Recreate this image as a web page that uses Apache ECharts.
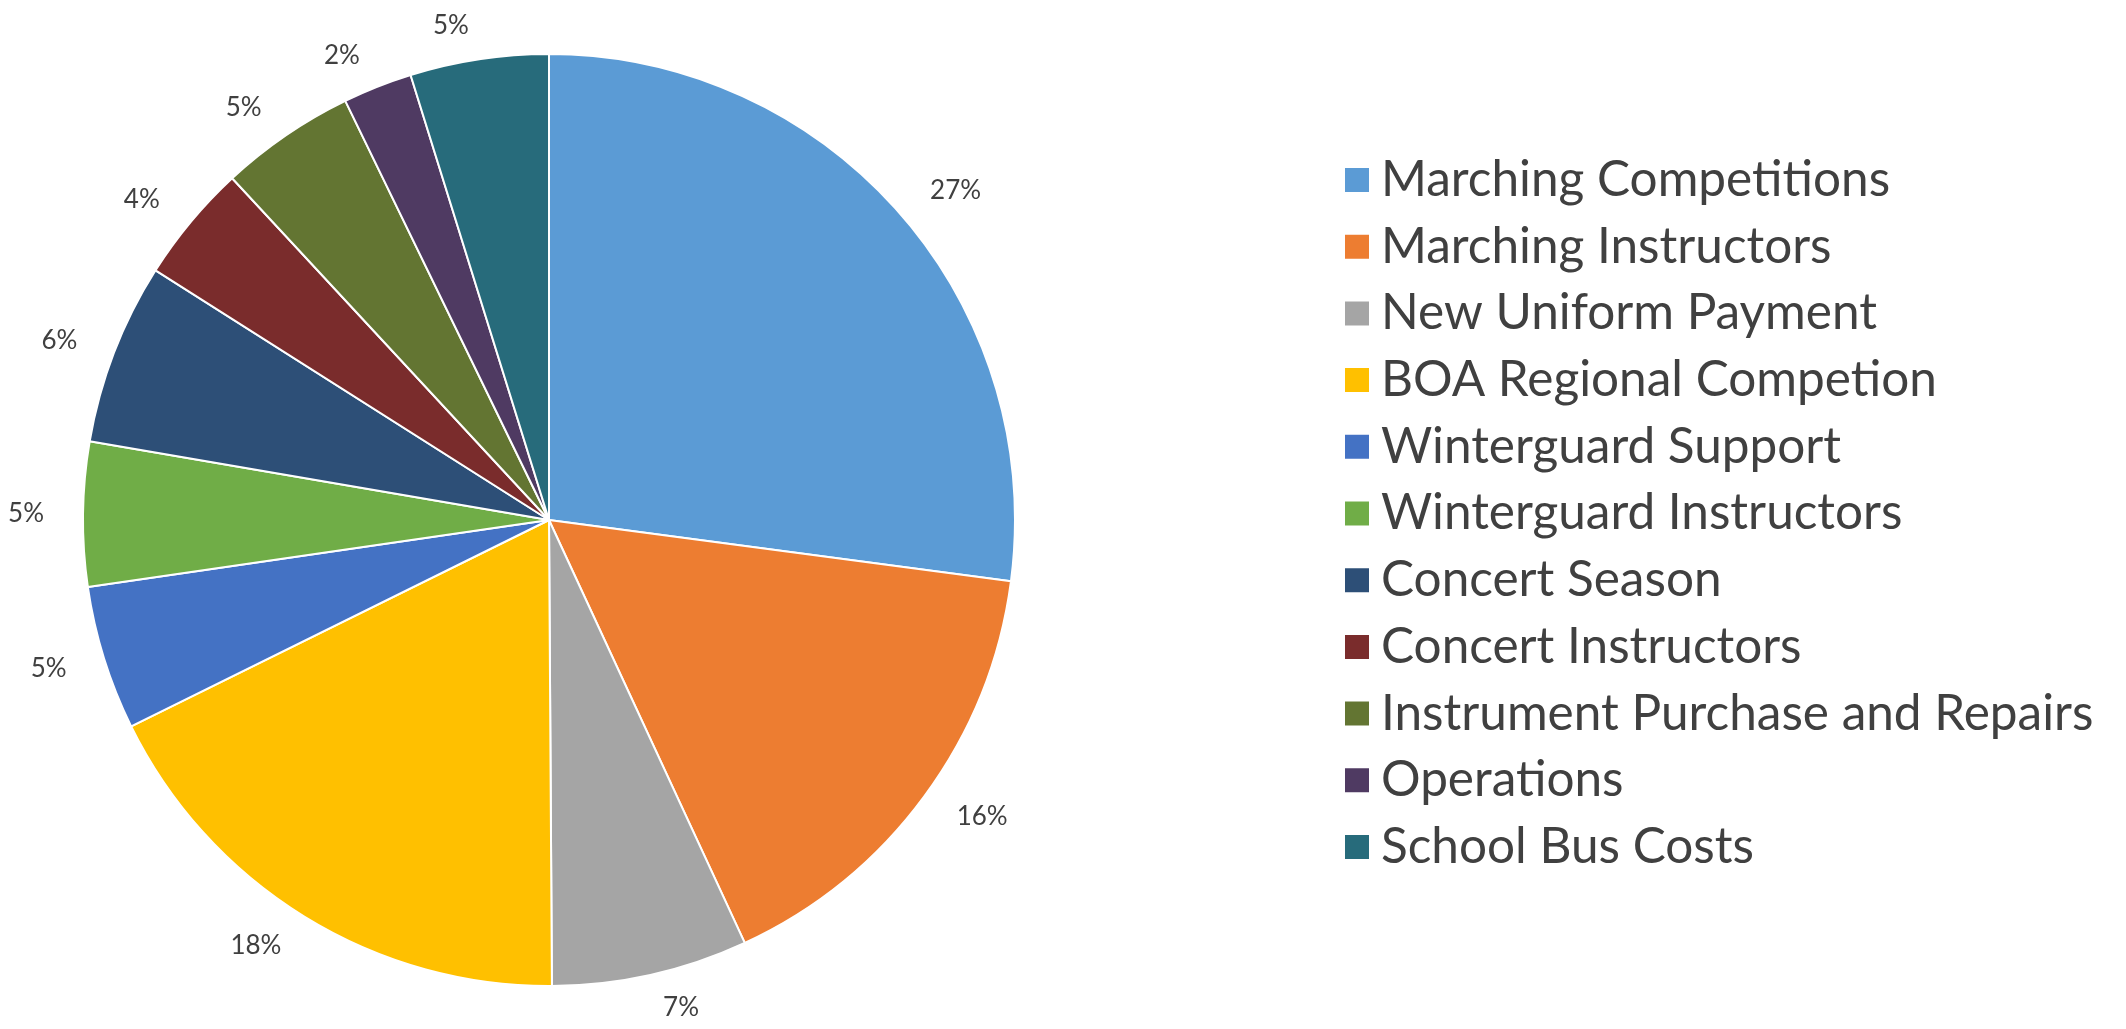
<!DOCTYPE html>
<html>
<head>
<meta charset="utf-8">
<script src="https://cdn.jsdelivr.net/npm/echarts@6/dist/echarts.min.js"></script>
<style>
  html, body { margin: 0; padding: 0; background: #fff; }
  #chart { width: 2126px; height: 1029px; }
</style>
</head>
<body>
<div id="chart"></div>
<script>
// budget categories, in drawing order (clockwise from 12 o'clock)
const categories = [
  'Marching Competitions',
  'Marching Instructors',
  'New Uniform Payment',
  'BOA Regional Competion',
  'Winterguard Support',
  'Winterguard Instructors',
  'Concert Season',
  'Concert Instructors',
  'Instrument Purchase and Repairs',
  'Operations',
  'School Bus Costs'
]
// share of budget (%)
const shares = [27.1, 16.0, 6.8, 17.8, 5.0, 5.0, 6.3, 4.1, 4.7, 2.4, 4.8]
const colors = ['#5B9BD5', '#ED7D31', '#A5A5A5', '#FFC000', '#4472C4', '#70AD47',
  '#2D4F77', '#7A2C2C', '#637532', '#4F3A62', '#276B7B']

const chart = echarts.init(document.getElementById('chart'))

let pieData = []
for (let i = 0; i < categories.length; i++) {
  pieData.push({ name: categories[i], value: shares[i] })
}

const option = {
  animation: false,
  color: colors,
  textStyle: { fontFamily: 'Lato' },
  legend: {
    orient: 'vertical',
    left: 1338,
    top: 149,
    icon: 'rect',
    itemWidth: 26,
    itemHeight: 26,
    itemGap: 14.7,
    selectedMode: false,
    data: categories,
    textStyle: {
      fontFamily: 'Lato',
      fontSize: 49.5,
      lineHeight: 52,
      color: '#404040',
      padding: [0, 0, 0, 6]
    }
  },
  series: [
    {
      type: 'pie',
      center: [549, 520],
      radius: 466,
      startAngle: 90,
      clockwise: true,
      avoidLabelOverlap: false,
      itemStyle: {
        borderColor: '#fff',
        borderWidth: 2
      },
      label: {
        show: true,
        position: 'outside',
        fontFamily: 'Lato',
        fontSize: 26,
        color: '#404040',
        formatter: (p) => Math.round(p.percent) + '%'
      },
      labelLine: {
        show: false,
        length: 34,
        length2: 0
      },
      emphasis: { disabled: true },
      data: pieData
    }
  ]
}

chart.setOption(option)
window.addEventListener('resize', () => {
  chart.resize()
})
</script>
</body>
</html>
